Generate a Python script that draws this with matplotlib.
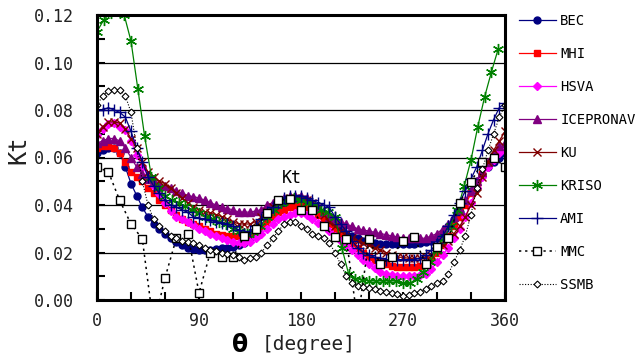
import matplotlib
matplotlib.use("Agg")
import matplotlib.pyplot as plt
from matplotlib.ticker import MultipleLocator

# angle grids of the different data sets
theta = list(range(0, 361, 5))
theta_kriso = list(range(0, 355, 6))
theta_mmc = list(range(0, 361, 10))

bec = [0.062, 0.063, 0.064, 0.064, 0.062, 0.056, 0.049, 0.044, 0.039, 0.035,
       0.032, 0.030, 0.028, 0.026, 0.0245, 0.023, 0.022, 0.0215, 0.021, 0.021,
       0.021, 0.0215, 0.022, 0.022, 0.0225, 0.023, 0.024, 0.026, 0.028, 0.031,
       0.034, 0.036, 0.038, 0.040, 0.041, 0.041, 0.041, 0.040, 0.039, 0.038,
       0.036, 0.034, 0.032, 0.030, 0.028, 0.027, 0.026, 0.025, 0.0245, 0.024,
       0.0235, 0.0235, 0.0235, 0.0235, 0.0235, 0.0235, 0.0235, 0.024, 0.0245, 0.025,
       0.026, 0.028, 0.031, 0.034, 0.037, 0.041, 0.046, 0.050, 0.053, 0.056,
       0.058, 0.060, 0.062]

mhi = [0.064, 0.065, 0.065, 0.064, 0.062, 0.058, 0.054, 0.052, 0.050, 0.047,
       0.045, 0.042, 0.040, 0.038, 0.036, 0.034, 0.033, 0.032, 0.031, 0.030,
       0.029, 0.028, 0.0275, 0.027, 0.027, 0.027, 0.027, 0.028, 0.029, 0.031,
       0.033, 0.035, 0.037, 0.038, 0.039, 0.0395, 0.0395, 0.039, 0.038, 0.036,
       0.034, 0.032, 0.030, 0.028, 0.026, 0.024, 0.022, 0.020, 0.018, 0.017,
       0.016, 0.015, 0.0145, 0.014, 0.014, 0.014, 0.014, 0.0145, 0.015, 0.017,
       0.020, 0.023, 0.027, 0.031, 0.035, 0.040, 0.045, 0.049, 0.053, 0.057,
       0.060, 0.063, 0.064]

hsva = [0.0695, 0.072, 0.074, 0.0745, 0.073, 0.0715, 0.067, 0.061, 0.056, 0.0525,
        0.048, 0.0445, 0.041, 0.0375, 0.035, 0.034, 0.033, 0.0315, 0.030, 0.029,
        0.028, 0.027, 0.026, 0.0252, 0.0245, 0.024, 0.024, 0.0245, 0.026, 0.028,
        0.030, 0.032, 0.034, 0.035, 0.036, 0.0365, 0.0365, 0.036, 0.034, 0.0325,
        0.031, 0.029, 0.027, 0.025, 0.023, 0.021, 0.019, 0.017, 0.015, 0.0135,
        0.012, 0.011, 0.0105, 0.010, 0.010, 0.010, 0.010, 0.0105, 0.011, 0.013,
        0.016, 0.019, 0.022, 0.026, 0.030, 0.035, 0.041, 0.047, 0.052, 0.056,
        0.059, 0.062, 0.063]

icepronav = [0.066, 0.067, 0.068, 0.068, 0.067, 0.064, 0.060, 0.056, 0.053, 0.051,
             0.050, 0.049, 0.048, 0.047, 0.046, 0.045, 0.044, 0.0435, 0.043, 0.042,
             0.041, 0.040, 0.039, 0.0385, 0.038, 0.037, 0.037, 0.037, 0.0375, 0.038,
             0.040, 0.041, 0.042, 0.043, 0.044, 0.044, 0.044, 0.043, 0.041, 0.039,
             0.037, 0.035, 0.034, 0.033, 0.032, 0.031, 0.030, 0.0295, 0.029, 0.0285,
             0.028, 0.0275, 0.027, 0.0265, 0.026, 0.026, 0.026, 0.026, 0.026, 0.027,
             0.028, 0.030, 0.032, 0.035, 0.038, 0.042, 0.046, 0.050, 0.054, 0.058,
             0.062, 0.065, 0.066]

ku = [0.070, 0.073, 0.075, 0.075, 0.0745, 0.072, 0.068, 0.064, 0.058, 0.054,
      0.052, 0.050, 0.049, 0.047, 0.045, 0.043, 0.041, 0.039, 0.038, 0.037,
      0.0365, 0.036, 0.035, 0.034, 0.033, 0.032, 0.032, 0.032, 0.033, 0.035,
      0.037, 0.039, 0.041, 0.042, 0.043, 0.043, 0.0425, 0.042, 0.041, 0.039,
      0.036, 0.033, 0.031, 0.029, 0.028, 0.026, 0.025, 0.024, 0.023, 0.022,
      0.021, 0.020, 0.019, 0.018, 0.018, 0.0175, 0.0175, 0.0175, 0.018, 0.019,
      0.021, 0.023, 0.025, 0.028, 0.031, 0.035, 0.040, 0.045, 0.052, 0.058,
      0.063, 0.067, 0.071]

kriso = [0.113, 0.118, 0.121, 0.122, 0.120, 0.109, 0.089, 0.069, 0.052, 0.047,
         0.044, 0.042, 0.041, 0.0395, 0.038, 0.0365, 0.035, 0.034, 0.033, 0.032,
         0.030, 0.029, 0.028, 0.0285, 0.031, 0.035, 0.038, 0.041, 0.042, 0.043,
         0.042, 0.041, 0.040, 0.038, 0.037, 0.035, 0.022, 0.011, 0.009, 0.0085,
         0.008, 0.008, 0.008, 0.008, 0.008, 0.007, 0.007, 0.009, 0.012, 0.016,
         0.021, 0.026, 0.031, 0.038, 0.048, 0.059, 0.073, 0.0855, 0.096, 0.1057]

ami = [0.080, 0.080, 0.081, 0.080, 0.079, 0.077, 0.071, 0.064, 0.058, 0.052,
       0.048, 0.045, 0.042, 0.040, 0.039, 0.038, 0.037, 0.035, 0.0345, 0.034,
       0.0335, 0.033, 0.0325, 0.032, 0.031, 0.0295, 0.028, 0.029, 0.031, 0.034,
       0.037, 0.039, 0.041, 0.043, 0.044, 0.044, 0.044, 0.043, 0.042, 0.041,
       0.040, 0.039, 0.035, 0.032, 0.029, 0.025, 0.022, 0.020, 0.019, 0.018,
       0.0175, 0.017, 0.017, 0.017, 0.017, 0.017, 0.017, 0.0175, 0.019, 0.021,
       0.024, 0.027, 0.031, 0.036, 0.041, 0.046, 0.051, 0.056, 0.063, 0.070,
       0.076, 0.081, 0.083]

mmc = [0.056, 0.054, 0.042, 0.032, 0.0257, -0.011, 0.0093, 0.026, 0.028, 0.003,
       0.020, 0.018, 0.018, 0.027, 0.030, 0.0366, 0.042, 0.0425, 0.038, 0.038,
       0.031, 0.0265, 0.0257, -0.009, 0.0257, 0.015, 0.018, 0.025, 0.0265, 0.015,
       0.0223, 0.026, 0.041, 0.0497, 0.058, 0.060, 0.056]

ssmb = [0.082, 0.086, 0.088, 0.0885, 0.0885, 0.086, 0.079, 0.064, 0.050, 0.040,
        0.034, 0.031, 0.029, 0.027, 0.026, 0.025, 0.0245, 0.0242, 0.023, 0.022,
        0.021, 0.0205, 0.020, 0.0195, 0.019, 0.018, 0.017, 0.0175, 0.018, 0.020,
        0.023, 0.026, 0.029, 0.032, 0.033, 0.033, 0.031, 0.030, 0.028, 0.027,
        0.026, 0.024, 0.020, 0.015, 0.010, 0.007, 0.006, 0.0055, 0.005, 0.0045,
        0.004, 0.0035, 0.003, 0.0025, 0.0015, 0.002, 0.003, 0.0035, 0.0045, 0.006,
        0.007, 0.008, 0.011, 0.016, 0.021, 0.027, 0.036, 0.047, 0.055, 0.063,
        0.070, 0.077, 0.082]

mono = "DejaVu Sans Mono"

fig = plt.figure(figsize=(6.43, 3.6), dpi=100)
ax = fig.add_axes([97 / 643, 1 - 300 / 360, 408 / 643, 285 / 360])

lw = 0.9
ax.plot(theta, bec, color="#000080", lw=lw, marker="o", ms=5, label="BEC")
ax.plot(theta, mhi, color="#ff0000", lw=lw, marker="s", ms=5, label="MHI")
ax.plot(theta, hsva, color="#ff00ff", lw=lw, marker="D", ms=4.5, label="HSVA")
ax.plot(theta, icepronav, color="#800080", lw=lw, marker="^", ms=6, label="ICEPRONAV")
ax.plot(theta, ku, color="#800000", lw=lw, marker="x", ms=6, mew=1, label="KU")
ax.plot(theta_kriso, kriso, color="#008000", lw=lw, marker=(6, 2, 0), ms=8, mew=1, label="KRISO")
ax.plot(theta, ami, color="#000080", lw=lw, marker="+", ms=8, mew=1, label="AMI")
ax.plot(theta_mmc, mmc, color="black", lw=1.1, ls=(0, (1.5, 2.5)), marker="s", ms=6,
        mfc="white", mec="black", mew=1, label="MMC")
ax.plot(theta, ssmb, color="black", lw=0.8, ls=(0, (1, 1.5)), marker="D", ms=3.5,
        mfc="white", mec="black", mew=0.8, label="SSMB")

ax.set_xlim(0, 360)
ax.set_ylim(0, 0.12)
ax.xaxis.set_major_locator(MultipleLocator(90))
ax.xaxis.set_minor_locator(MultipleLocator(30))
ax.yaxis.set_major_locator(MultipleLocator(0.02))
ax.yaxis.set_minor_locator(MultipleLocator(0.01))
ax.yaxis.set_major_formatter(lambda v, p: "%.2f" % v)
ax.grid(axis="y", which="major", color="black", lw=0.9)
ax.tick_params(which="both", direction="in", color="black")
ax.tick_params(which="major", length=6, width=1.5)
ax.tick_params(which="minor", length=6, width=1.5)
ax.tick_params(axis="y", which="major", pad=17)
ax.tick_params(axis="x", which="major", pad=9)
for lab in ax.get_xticklabels() + ax.get_yticklabels():
    lab.set_fontfamily(mono)
    lab.set_fontsize(12)
    lab.set_color("#222222")
for sp in ax.spines.values():
    sp.set_linewidth(2.2)

ax.text(172, 0.0475, "Kt", fontsize=12, family=mono, ha="center", va="bottom")
fig.text(18 / 643, 1 - 150 / 360, "Kt", fontsize=17, family=mono, rotation=90,
         ha="center", va="center", color="#222222")
fig.text(240 / 643, 1 - 345 / 360, "θ", fontsize=17, weight="bold",
         ha="center", va="center")
fig.text(262 / 643, 1 - 345 / 360, "[degree]", fontsize=14, family=mono,
         ha="left", va="center", color="#222222")

fig.legend(loc="upper left", bbox_to_anchor=(513 / 643, 1 - 8 / 360), frameon=False,
           prop={"family": mono, "size": 10}, labelspacing=1.37, handlelength=2.7,
           handletextpad=0.3, borderaxespad=0)

fig.savefig("out.png", dpi=100, facecolor="white")
